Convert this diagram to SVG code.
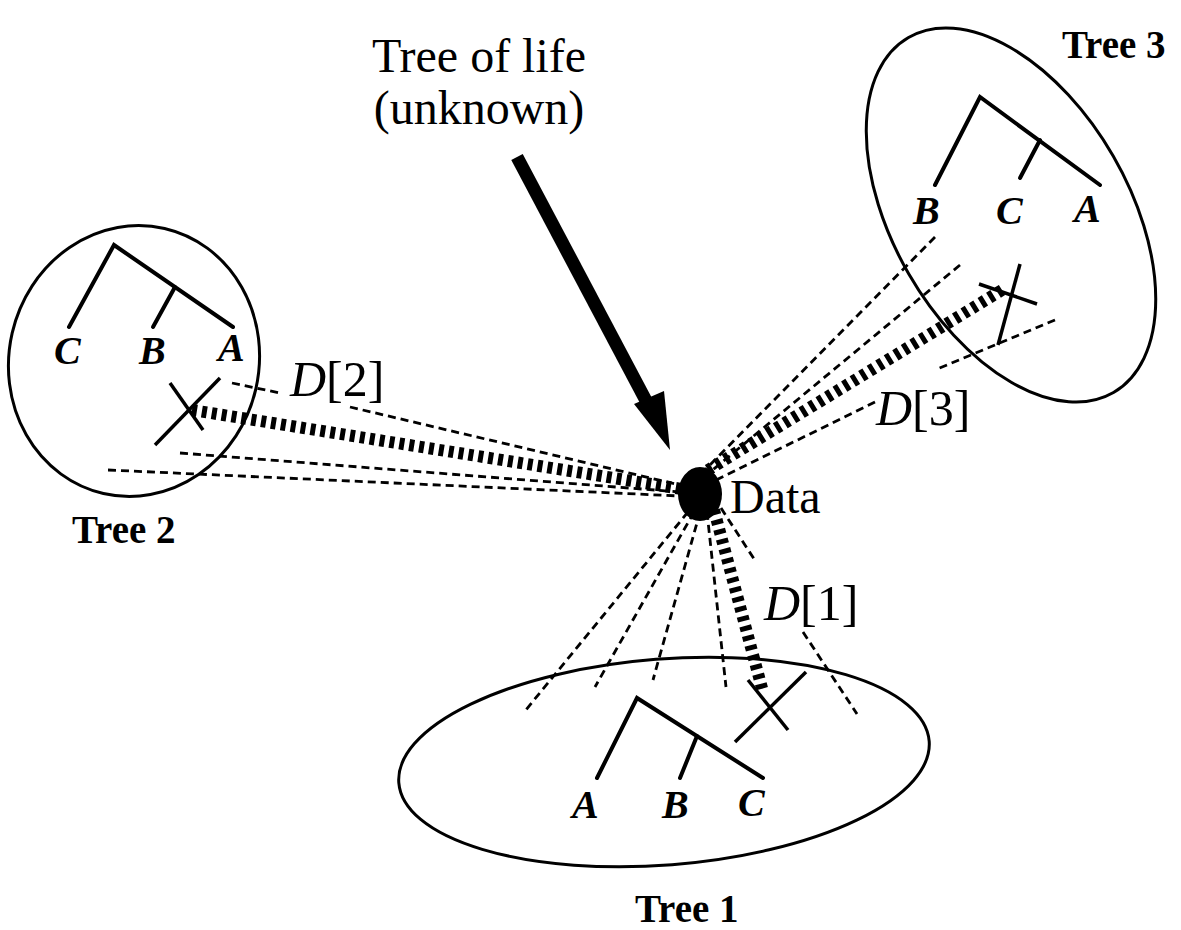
<svg xmlns="http://www.w3.org/2000/svg" width="1181" height="930" viewBox="0 0 1181 930">
<style>
.ell{fill:none;stroke:#000;stroke-width:3}
.br{fill:none;stroke:#000;stroke-width:4;stroke-linecap:round;stroke-linejoin:miter}
.xm{fill:none;stroke:#000;stroke-width:3.5}
.thin{fill:none;stroke:#000;stroke-width:2.8;stroke-dasharray:8 5}
.thick{fill:none;stroke:#000;stroke-width:12;stroke-dasharray:5 5}
.leaf{font-family:"Liberation Serif",serif;font-weight:bold;font-style:italic;font-size:40px}
.tl{font-family:"Liberation Serif",serif;font-weight:bold;font-size:39px}
.big{font-family:"Liberation Serif",serif;font-size:48px}
.lab{font-family:"Liberation Serif",serif;font-size:50px}
.it{font-style:italic}
</style>
<rect width="1181" height="930" fill="#fff"/>
<g id="title">
<text class="big" x="479" y="72" text-anchor="middle">Tree of life</text>
<text class="big" x="479" y="124" text-anchor="middle">(unknown)</text>
</g>
<g id="connectors">
<line x1="517" y1="157" x2="652" y2="412" stroke="#000" stroke-width="13"/>
<polygon points="634,404 664,391 670,450" fill="#000"/>
<line class="thick" x1="192" y1="410" x2="688" y2="490"/>
<line class="thin" x1="232" y1="383" x2="280" y2="393"/>
<line class="thin" x1="350" y1="407" x2="680" y2="485"/>
<line class="thin" x1="180" y1="453" x2="680" y2="492"/>
<line class="thin" x1="108" y1="470" x2="680" y2="496"/>
<line class="thick" x1="1002" y1="290" x2="708" y2="470"/>
<line class="thin" x1="935" y1="237" x2="700" y2="475"/>
<line class="thin" x1="960" y1="265" x2="703" y2="478"/>
<line class="thin" x1="1055" y1="320" x2="935" y2="370"/>
<line class="thin" x1="875" y1="402" x2="712" y2="482"/>
<line class="thin" x1="688" y1="512" x2="525" y2="711"/>
<line class="thin" x1="694" y1="512" x2="595" y2="687"/>
<line class="thin" x1="700" y1="512" x2="653" y2="680"/>
<line class="thin" x1="707" y1="512" x2="726" y2="687"/>
<line class="thick" x1="714" y1="510" x2="763" y2="692"/>
<line class="thin" x1="721" y1="508" x2="756" y2="562"/>
<line class="thin" x1="803" y1="632" x2="857" y2="714"/>
</g>
<g id="data">
<ellipse cx="700" cy="494" rx="22" ry="27" fill="#000"/>
<text class="big" x="730" y="513">Data</text>
</g>
<g id="labels">
<text class="lab" x="290" y="396"><tspan class="it">D</tspan>[2]</text>
<text class="lab" x="876" y="425"><tspan class="it">D</tspan>[3]</text>
<text class="lab" x="764" y="620"><tspan class="it">D</tspan>[1]</text>
</g>
<g id="tree2">
<ellipse class="ell" cx="134" cy="361" rx="125" ry="136" transform="rotate(13 134 361)"/>
<polyline class="br" points="69,327 114,245 233,327"/>
<line class="br" x1="175" y1="287" x2="153" y2="327"/>
<text class="leaf" x="54" y="364">C</text>
<text class="leaf" x="139" y="364">B</text>
<text class="leaf" x="218" y="361">A</text>
<line class="xm" x1="220" y1="378" x2="155" y2="445"/>
<line class="xm" x1="170" y1="383" x2="203" y2="430"/>
<text class="tl" x="72" y="543">Tree 2</text>
</g>
<g id="tree3">
<ellipse class="ell" cx="1011" cy="215" rx="118" ry="205" transform="rotate(-30 1011 215)"/>
<polyline class="br" points="935,185 980,97 1100,185"/>
<line class="br" x1="1040" y1="140" x2="1020" y2="178"/>
<text class="leaf" x="913" y="224">B</text>
<text class="leaf" x="996" y="224">C</text>
<text class="leaf" x="1074" y="222">A</text>
<line class="xm" x1="1020" y1="264" x2="998" y2="345"/>
<line class="xm" x1="979" y1="284" x2="1037" y2="304"/>
<text class="tl" x="1062" y="58">Tree 3</text>
</g>
<g id="tree1">
<ellipse class="ell" cx="664" cy="762" rx="266" ry="103" transform="rotate(-4.5 664 762)"/>
<polyline class="br" points="597,778 637,698 763,778"/>
<line class="br" x1="697" y1="736" x2="680" y2="778"/>
<text class="leaf" x="572" y="818">A</text>
<text class="leaf" x="662" y="818">B</text>
<text class="leaf" x="738" y="816">C</text>
<line class="xm" x1="735" y1="742" x2="806" y2="672"/>
<line class="xm" x1="748" y1="680" x2="788" y2="730"/>
<text class="tl" x="635" y="922">Tree 1</text>
</g>
</svg>
